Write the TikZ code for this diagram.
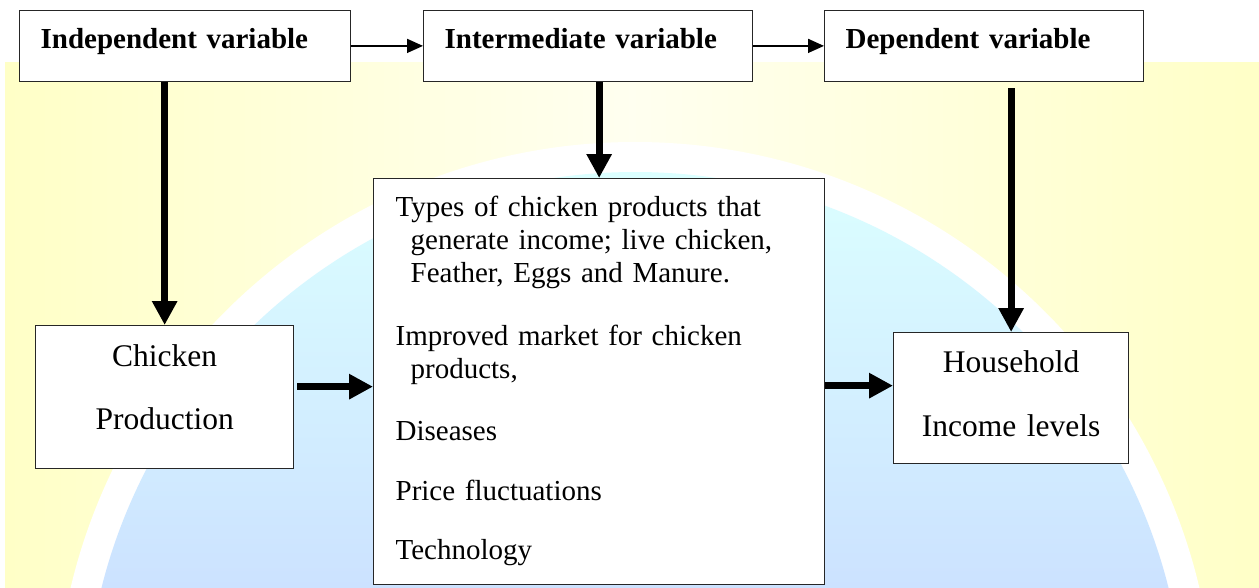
\documentclass[tikz,border=0pt]{standalone}
\usepackage{fontspec}
\setmainfont{Liberation Serif}
\usetikzlibrary{arrows.meta,positioning}

\begin{document}
\begin{tikzpicture}[x=1pt, y=-1pt,
          every node/.style={font=\fontsize{29}{33}\selectfont},
          box/.style={draw=black!85, line width=1.3pt, fill=white, inner ysep=0pt, anchor=north west},
          hdr/.style={box, font=\fontsize{29}{33}\selectfont\bfseries, inner xsep=21pt, align=left, text height=38.5pt, text depth=33pt},
          outc/.style={box, font=\fontsize{31.5}{36}\selectfont, inner xsep=0pt, align=center},
          arr/.style={-{Triangle[length=16pt,width=14pt]}, line width=1.6pt},
          bigarr/.style={-{Triangle[length=24pt,width=24pt]}, line width=7pt},
        ]
          \useasboundingbox (0,0) rectangle (1259,587);
          % watermark in the background
          \shade[left color=yellow!22, right color=yellow!22, middle color=yellow!6] (5,62) rectangle (1259,587);
          \begin{scope}
            \clip (0,0) rectangle (1259,587);
            \fill[white] (635,722) circle[radius=580pt];
            \shade[top color=cyan!14, bottom color=blue!30] (635,722) circle[radius=550pt];
          \end{scope}
          % variables
          \node[hdr, text width=289pt] (indep)  at (19,9.5)  {Independent variable};
          \node[hdr, text width=287pt] (interm) at (423,9.5) {Intermediate variable};
          \node[hdr, text width=277pt] (dep)    at (824,9.5) {Dependent variable};
          \node[outc, text width=258pt, text height=41pt, text depth=102pt] (chick) at (35,325) {Chicken\\[27pt]Production};
          \node[outc, text width=235pt, text height=40pt, text depth=91pt] (house) at (893,332) {Household\\[28pt]Income levels};
          \node[box, inner xsep=22pt, align=left, text width=407pt, text height=38pt, text depth=368pt] (mid) at (373,178) {Types of chicken products that\\
            \hspace*{15pt}generate income; live chicken,\\
            \hspace*{15pt}Feather, Eggs and Manure.\\[30pt]
            Improved market for chicken\\
            \hspace*{15pt}products,\\[29pt]
            Diseases\\[27pt]
            Price fluctuations\\[26pt]
            Technology};
          % links
          \draw[arr] (indep) -- (interm);
          \draw[arr] (interm) -- (dep);
          \draw[bigarr] (indep.south -| chick.north) -- (chick.north);
          \draw[bigarr] (interm.south -| mid.north) -- (mid.north);
          \draw[bigarr, shorten <=6pt] (dep.south -| house.north) -- (house.north);
          \coordinate (cp) at ([yshift=10.5pt]chick.east);
          \coordinate (hp) at ([yshift=12.5pt]house.west);
          \draw[bigarr] ([xshift=3pt]cp) -- (cp -| mid.west);
          \draw[bigarr] (hp -| mid.east) -- (hp);
        \end{tikzpicture}
\end{document}
